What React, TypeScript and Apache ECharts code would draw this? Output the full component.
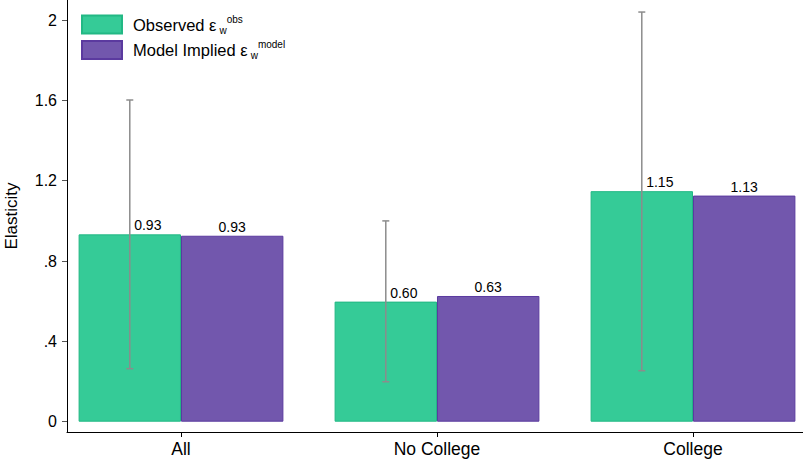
import React, { useEffect, useRef } from 'react';
import * as echarts from 'echarts';

const categories = ['All', 'No College', 'College'];
const observed = [0.933, 0.598, 1.148];
const modelImplied = [0.926, 0.626, 1.126];
const ciLow = [0.264, 0.199, 0.254];
const ciHigh = [1.602, 1.0, 2.04];
const yTicks = [0, 0.4, 0.8, 1.2, 1.6, 2];
const seriesNames = ['Observed', 'Model Implied'];

export default function App() {
  const ref = useRef<HTMLDivElement>(null);
  useEffect(() => {
    const chart = echarts.init(ref.current!, null, { renderer: 'svg' });
    const font = '"Liberation Sans", Helvetica, Arial, sans-serif';
    const idx = categories.map((_, i) => i);
    chart.setOption({
      animation: false,
      textStyle: { fontFamily: font },
      grid: { left: 67, right: 0, top: 0, bottom: 30, containLabel: false, outerBoundsMode: 'none' },
      legend: {
        orient: 'vertical',
        left: 76,
        top: 9,
        itemWidth: 40,
        itemHeight: 18,
        itemGap: 4.5,
        icon: 'rect',
        data: seriesNames,
        formatter: (name: string) =>
          name === 'Observed'
            ? '{m|Observed ε}{s|w}{p|obs}'
            : '{m|Model Implied ε}{s|w}{p|model}',
        textStyle: {
          fontSize: 16.5,
          fontFamily: font,
          rich: {
            m: { fontSize: 16.5, color: '#000', lineHeight: 20, padding: [0, 0, 0, 6], verticalAlign: 'middle', fontFamily: font },
            s: { fontSize: 10, color: '#000', lineHeight: 21, padding: [0, 0, 0, 3], verticalAlign: 'bottom', fontFamily: font },
            p: { fontSize: 10, color: '#000', lineHeight: 20, verticalAlign: 'top', fontFamily: font },
          },
        },
      },
      xAxis: {
        type: 'value',
        min: -0.4453,
        max: 2.4297,
        axisLine: { show: true, onZero: false, lineStyle: { color: '#000', width: 1 } },
        axisTick: { show: true, customValues: idx, length: 5, lineStyle: { color: '#000' } },
        axisLabel: {
          customValues: idx,
          formatter: (v: number) => categories[Math.round(v)] ?? '',
          fontSize: 17.5,
          color: '#000',
          margin: 8,
          fontFamily: font,
        },
        splitLine: { show: false },
      },
      yAxis: {
        type: 'value',
        min: -0.0513,
        max: 2.1,
        name: 'Elasticity',
        nameLocation: 'middle',
        nameGap: 47,
        nameRotate: 90,
        nameTextStyle: { fontSize: 17, color: '#000', fontFamily: font },
        axisLine: { show: true, onZero: false, lineStyle: { color: '#000', width: 1 } },
        axisTick: { show: true, customValues: yTicks, length: 5, lineStyle: { color: '#555' } },
        axisLabel: {
          customValues: yTicks,
          formatter: (v: number) => (v === 0 ? '0' : String(+v.toFixed(1)).replace(/^0\./, '.')),
          fontSize: 16,
          color: '#000',
          margin: 10,
          fontFamily: font,
        },
        splitLine: { show: false },
      },
      series: [
        {
          name: seriesNames[0],
          type: 'bar',
          barGap: '0%',
          barCategoryGap: '20%',
          data: idx.map((i) => [i, observed[i]]),
          itemStyle: { color: '#35cb97', borderColor: '#22b884', borderWidth: 1 },
          label: {
            show: true,
            position: 'top',
            distance: 2,
            offset: [18, 0],
            fontSize: 14,
            color: '#000',
            fontFamily: font,
            formatter: (p: any) => p.value[1].toFixed(2),
          },
        },
        {
          name: seriesNames[1],
          type: 'bar',
          barGap: '0%',
          barCategoryGap: '20%',
          data: idx.map((i) => [i, modelImplied[i]]),
          itemStyle: { color: '#7257ad', borderColor: '#5b3a9f', borderWidth: 1 },
          label: {
            show: true,
            position: 'top',
            distance: 2,
            fontSize: 14,
            color: '#000',
            fontFamily: font,
            formatter: (p: any) => p.value[1].toFixed(2),
          },
        },
        {
          name: 'CI',
          type: 'custom',
          z: 5,
          data: idx.map((i) => [i, ciLow[i], ciHigh[i]]),
          encode: { x: 0, y: [1, 2] },
          renderItem: (params: any, api: any) => {
            const i = api.value(0);
            const lo = api.coord([i, api.value(1)]);
            const hi = api.coord([i, api.value(2)]);
            const w = api.size([1, 0])[0];
            const x = lo[0] - w * 0.2;
            const cap = 3.5;
            const style = { stroke: '#8c8c8c', lineWidth: 1.5 };
            return {
              type: 'group',
              children: [
                { type: 'line', shape: { x1: x, y1: hi[1], x2: x, y2: lo[1] }, style },
                { type: 'line', shape: { x1: x - cap, y1: hi[1], x2: x + cap, y2: hi[1] }, style },
                { type: 'line', shape: { x1: x - cap, y1: lo[1], x2: x + cap, y2: lo[1] }, style },
              ],
            };
          },
        },
      ],
    });
    return () => chart.dispose();
  }, []);
  return (
    <div
      ref={ref}
      style={{ position: 'fixed', left: 0, top: 0, width: 803, height: 462, background: '#fff' }}
    />
  );
}
